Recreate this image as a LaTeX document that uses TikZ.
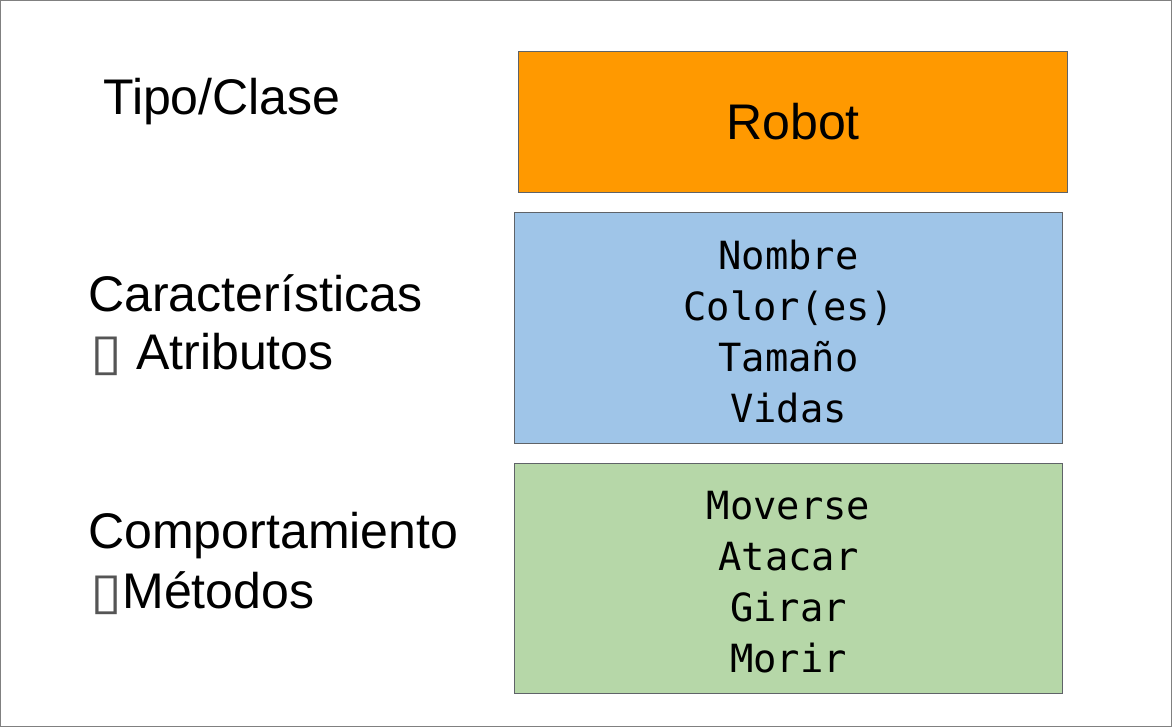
\documentclass[tikz,border=0pt]{standalone}
\usepackage{fontspec}
\setmainfont{Liberation Sans}
\setmonofont{DejaVu Sans Mono}
\newfontfamily\tofufont{DejaVu Sans}
\usetikzlibrary{positioning}

\definecolor{robotorange}{HTML}{FF9900}
\definecolor{attrblue}{HTML}{9FC5E8}
\definecolor{methgreen}{HTML}{B6D7A8}
\definecolor{edgegray}{HTML}{5F6368}
\definecolor{framegray}{HTML}{808080}
\definecolor{tofugray}{HTML}{555555}

\tikzset{
	sidelabel/.style={anchor=base west,inner sep=0pt,font=\fontsize{35.6}{41}\selectfont},
	classbox/.style={draw=edgegray,line width=0.7pt,minimum width=13.72cm,inner sep=0pt},
	membertext/.style={align=center,inner sep=0pt,font=\ttfamily\fontsize{27.6}{36.3}\selectfont},
}
\newcommand{\tofu}{{\tofufont\fontsize{36}{36}\selectfont\color{tofugray}\scalebox{1.15}[1]{\char"25AF}}}

\begin{document}
\begin{tikzpicture}[x=0.025cm,y=-0.025cm]
		\useasboundingbox (0,0) rectangle (1172,727);
		\draw[framegray,line width=1.4pt] (0.5,0.5) rectangle (1171.5,726.5);
		%
		\node[classbox,fill=robotorange,minimum height=3.5cm,font=\fontsize{35.6}{41}\selectfont] (robot) at (793,122) {Robot};
		\node[classbox,fill=attrblue,minimum height=5.75cm] (attrs) at (788.5,328) {};
		\node[classbox,fill=methgreen,minimum height=5.725cm] (methods) at (788.5,578.5) {};
		\node[membertext] (attrlist) at ([yshift=-0.08cm]attrs.center) {Nombre\\Color(es)\\Tamaño\\Vidas};
		\node[membertext] (methodlist) at ([yshift=-0.08cm]methods.center) {Moverse\\Atacar\\Girar\\Morir};
		%
		\node[sidelabel] (tipo) at (103,115) {Tipo/Clase};
		\node[sidelabel] (carac) at (88,312) {Características};
		\node[sidelabel] (atrib) at (90,370) {\tofu{} Atributos};
		\node[sidelabel] (comport) at (88,549) {Comportamiento};
		\node[sidelabel] (metod) at (90,608) {\tofu{}Métodos};
\end{tikzpicture}
\end{document}
